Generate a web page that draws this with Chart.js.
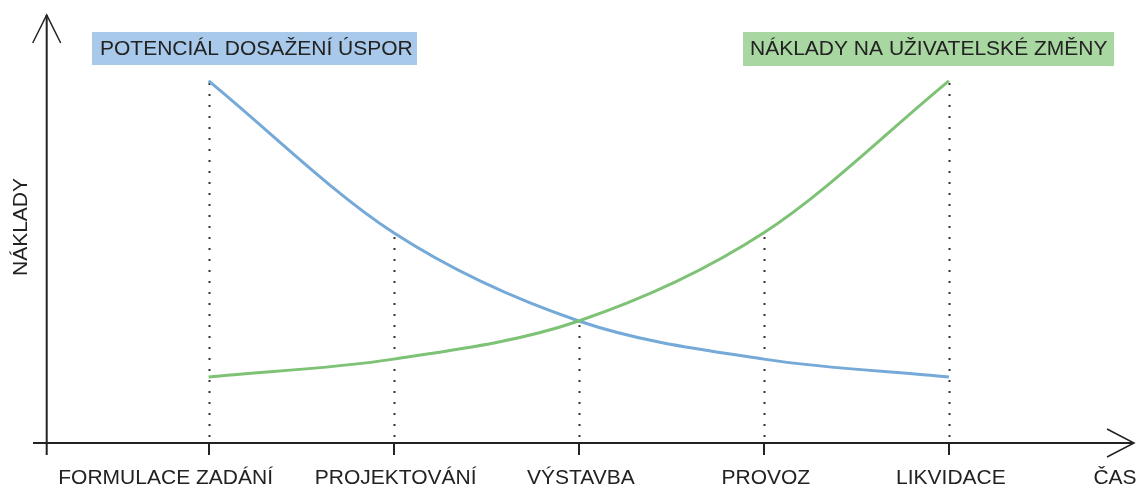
<!DOCTYPE html>
<html>
<head>
<meta charset="utf-8">
<script src="https://cdn.jsdelivr.net/npm/chart.js@4.4.1/dist/chart.umd.min.js"></script>
<style>
  body { margin: 0; background: #fff; }
  canvas { display: block; }
</style>
</head>
<body>
<canvas id="cost_chart" width="1138" height="488"></canvas>
<script>
var phases = ["FORMULACE ZADÁNÍ", "PROJEKTOVÁNÍ", "VÝSTAVBA", "PROVOZ", "LIKVIDACE"];
var savingsPotential = [84.6, 49.1, 28.5, 19.6, 15.4];
var changeCosts = [15.4, 19.6, 28.5, 49.1, 84.6];
var savingsLabel = "POTENCIÁL DOSAŽENÍ ÚSPOR";
var changeLabel = "NÁKLADY NA UŽIVATELSKÉ ZMĚNY";
var yTitle = "NÁKLADY";
var xTitle = "ČAS";

var FONT = "21px 'Liberation Sans', Arial, sans-serif";
var INK = "#222";

function toPoints(values) {
  return values.map(function (v, i) { return { x: i, y: v }; });
}

// axes with arrows, dotted drop lines and the text labels
var drawing = {
  id: "drawing",
  beforeDatasetsDraw: function (chart) {
    var ctx = chart.ctx;
    var xs = chart.scales.x, ys = chart.scales.y;
    var base = ys.getPixelForValue(0);
    var left = chart.chartArea.left, right = chart.chartArea.right;
    ctx.save();

    // dotted lines from the axis up to the higher curve
    ctx.strokeStyle = "#333";
    ctx.lineWidth = 2;
    ctx.setLineDash([2, 9]);
    phases.forEach(function (p, i) {
      var px = Math.round(xs.getPixelForValue(i)) + 0.5;
      var top = ys.getPixelForValue(Math.max(savingsPotential[i], changeCosts[i]));
      ctx.beginPath();
      ctx.moveTo(px, base - 6);
      ctx.lineTo(px, top);
      ctx.stroke();
    });
    ctx.setLineDash([]);

    // axes
    ctx.strokeStyle = INK;
    ctx.lineWidth = 2;
    ctx.beginPath();
    ctx.moveTo(left, 455);
    ctx.lineTo(left, chart.chartArea.top);
    ctx.moveTo(33, base);
    ctx.lineTo(right, base);
    ctx.stroke();
    ctx.lineWidth = 1.5;
    ctx.beginPath();
    ctx.moveTo(left - 14, 43);
    ctx.lineTo(left, chart.chartArea.top);
    ctx.lineTo(left + 14, 43);
    ctx.moveTo(right - 27, base - 14);
    ctx.lineTo(right, base);
    ctx.lineTo(right - 27, base + 14);
    ctx.stroke();

    ctx.restore();
  },
  afterDraw: function (chart) {
    var ctx = chart.ctx;
    var xs = chart.scales.x;
    ctx.save();
    ctx.font = FONT;
    ctx.fillStyle = INK;
    ctx.textBaseline = "middle";
    ctx.textAlign = "center";

    // phase names, the first one sits left of its tick
    phases.forEach(function (p, i) {
      var shift = i === 0 ? -43 : 2;
      ctx.fillText(p, xs.getPixelForValue(i) + shift, 478);
    });
    ctx.fillText(xTitle, 1115, 478);

    ctx.save();
    ctx.translate(21, 227);
    ctx.rotate(-Math.PI / 2);
    ctx.fillText(yTitle, 0, 0);
    ctx.restore();

    // series captions
    ctx.textAlign = "left";
    ctx.fillStyle = "#a9c9ea";
    ctx.fillRect(92, 32, 325, 33);
    ctx.fillStyle = "#a9d7a1";
    ctx.fillRect(743, 32, 371, 34);
    ctx.fillStyle = INK;
    ctx.fillText(savingsLabel, 100, 49);
    ctx.fillText(changeLabel, 750, 49);
    ctx.restore();
  }
};

var ctx = document.getElementById("cost_chart").getContext("2d");
var cost_chart = new Chart(ctx, {
  type: "line",
  data: {
    datasets: [
      {
        label: changeLabel,
        data: toPoints(changeCosts),
        borderColor: "#7dc275",
        borderWidth: 3,
        pointRadius: 0,
        cubicInterpolationMode: "monotone",
        fill: false,
      },
      {
        label: savingsLabel,
        data: toPoints(savingsPotential),
        borderColor: "#74a9d8",
        borderWidth: 3,
        pointRadius: 0,
        cubicInterpolationMode: "monotone",
        fill: false,
      },
    ],
  },
  options: {
    responsive: false,
    animation: false,
    layout: {
      padding: { left: 46.7, top: 15, right: 4, bottom: 0 },
    },
    scales: {
      x: {
        type: "linear",
        min: -0.875,
        max: 5,
        afterBuildTicks: function (scale) {
          scale.ticks = phases.map(function (p, i) { return { value: i }; });
        },
        afterFit: function (scale) {
          scale.height = 45;
        },
        ticks: { display: false },
        border: { display: false },
        grid: {
          drawOnChartArea: false,
          drawTicks: true,
          tickLength: 12,
          color: INK,
          lineWidth: 2,
        },
      },
      y: {
        display: false,
        min: 0,
        max: 100,
      },
    },
    plugins: {
      legend: { display: false },
      tooltip: { enabled: false },
    },
  },
  plugins: [drawing],
});
</script>
</body>
</html>
